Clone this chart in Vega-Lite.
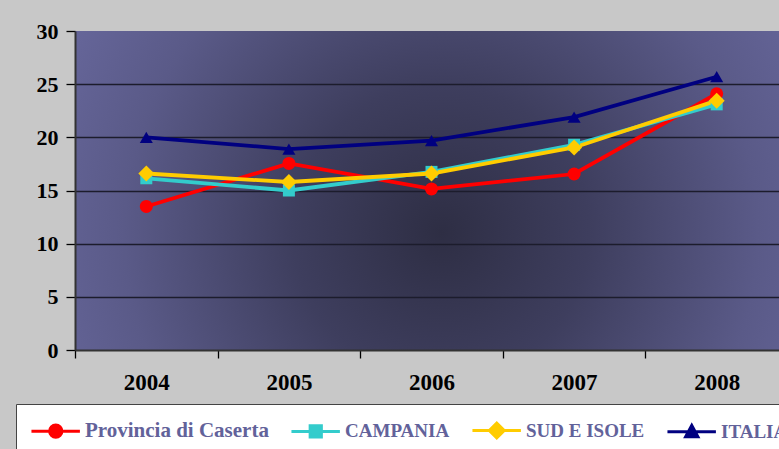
{
  "$schema": "https://vega.github.io/schema/vega-lite/v6.json",
  "autosize": "none",
  "width": 704,
  "height": 319,
  "padding": {"left": 75, "top": 31, "right": 0, "bottom": 99},
  "background": "#c8c8c8",
  "data": {
    "values": [
      {"year": "2004", "serie": "Provincia di Caserta", "value": 13.5},
      {"year": "2005", "serie": "Provincia di Caserta", "value": 17.55},
      {"year": "2006", "serie": "Provincia di Caserta", "value": 15.15},
      {"year": "2007", "serie": "Provincia di Caserta", "value": 16.55},
      {"year": "2008", "serie": "Provincia di Caserta", "value": 24.1},
      {"year": "2004", "serie": "CAMPANIA", "value": 16.15},
      {"year": "2005", "serie": "CAMPANIA", "value": 15.0},
      {"year": "2006", "serie": "CAMPANIA", "value": 16.75},
      {"year": "2007", "serie": "CAMPANIA", "value": 19.3},
      {"year": "2008", "serie": "CAMPANIA", "value": 23.1},
      {"year": "2004", "serie": "SUD E ISOLE", "value": 16.6},
      {"year": "2005", "serie": "SUD E ISOLE", "value": 15.8},
      {"year": "2006", "serie": "SUD E ISOLE", "value": 16.6},
      {"year": "2007", "serie": "SUD E ISOLE", "value": 19.05},
      {"year": "2008", "serie": "SUD E ISOLE", "value": 23.45},
      {"year": "2004", "serie": "ITALIA", "value": 20.0},
      {"year": "2005", "serie": "ITALIA", "value": 18.9},
      {"year": "2006", "serie": "ITALIA", "value": 19.7},
      {"year": "2007", "serie": "ITALIA", "value": 21.9},
      {"year": "2008", "serie": "ITALIA", "value": 25.7}
    ]
  },
  "encoding": {
    "x": {
      "field": "year",
      "type": "ordinal",
      "scale": {"type": "band", "range": [0, 713], "paddingInner": 0, "paddingOuter": 0},
      "axis": {
        "title": null,
        "labelAngle": 0,
        "labelFont": "Liberation Serif",
        "labelFontWeight": "bold",
        "labelFontSize": 23,
        "labelColor": "#000000",
        "labelPadding": 13,
        "tickBand": "extent",
        "tickSize": 8,
        "tickColor": "#000000",
        "tickWidth": 1.3,
        "domainColor": "#333333",
        "domainWidth": 2,
        "grid": false
      }
    },
    "y": {
      "field": "value",
      "type": "quantitative",
      "scale": {"domain": [0, 30], "nice": false},
      "axis": {
        "title": null,
        "values": [0, 5, 10, 15, 20, 25, 30],
        "labelFont": "Liberation Serif",
        "labelFontWeight": "bold",
        "labelFontSize": 22,
        "labelColor": "#000000",
        "labelPadding": 8,
        "tickSize": 9,
        "tickColor": "#000000",
        "tickWidth": 1.3,
        "domainColor": "#333333",
        "domainWidth": 2,
        "grid": true,
        "gridColor": "#1c1c2c",
        "gridWidth": 1.4,
        "gridOpacity": {"condition": {"test": "datum.value == 0 || datum.value == 30", "value": 0}, "value": 1}
      }
    },
    "color": {
      "field": "serie",
      "type": "nominal",
      "scale": {
        "domain": ["Provincia di Caserta", "CAMPANIA", "SUD E ISOLE", "ITALIA"],
        "range": ["#ff0000", "#33cccc", "#ffcc00", "#000080"]
      },
      "legend": {
        "title": null,
        "orient": "none",
        "legendX": -59,
        "legendY": 373,
        "direction": "horizontal",
        "fillColor": "#ffffff",
        "strokeColor": "#444444",
        "padding": 8,
        "symbolSize": 1156,
        "symbolStrokeWidth": 3,
        "labelFont": "Liberation Serif",
        "labelFontWeight": "bold",
        "labelFontSize": 21,
        "labelColor": "#62629a",
        "labelOffset": 24,
        "labelLimit": 400,
        "columnPadding": 15,
        "encode": {
          "labels": {
            "update": {
              "fontSize": {"signal": "datum.value === 'Provincia di Caserta' ? 21 : 19"}
            }
          },
          "symbols": {
            "update": {
              "shape": {"signal": "datum.value === 'Provincia di Caserta' ? 'M-0.65,0 L2.2,0 M1.14,0 A0.36,0.36 0 1,0 0.42,0 A0.36,0.36 0 1,0 1.14,0 Z' : datum.value === 'CAMPANIA' ? 'M-0.65,0 L2.2,0 M0.45,-0.33 L1.11,-0.33 L1.11,0.33 L0.45,0.33 Z' : datum.value === 'SUD E ISOLE' ? 'M-0.65,0 L2.2,0 M0.34,0 L0.78,-0.44 L1.22,0 L0.78,0.44 Z' : 'M-0.65,0 L2.2,0 M0.42,0.28 L0.78,-0.38 L1.14,0.28 Z'"},
              "fill": {"signal": "scale('color', datum.value)"},
              "stroke": {"signal": "scale('color', datum.value)"},
              "strokeWidth": {"value": 3},
              "opacity": {"value": 1},
              "fillOpacity": {"value": 1}
            }
          }
        }
      }
    }
  },
  "layer": [
    {"mark": {"type": "line", "strokeWidth": 3.8}},
    {
      "transform": [{"filter": {"field": "serie", "equal": "Provincia di Caserta"}}],
      "mark": {"type": "point", "shape": "circle", "size": 169, "filled": true, "opacity": 1}
    },
    {
      "transform": [{"filter": {"field": "serie", "equal": "CAMPANIA"}}],
      "mark": {"type": "point", "shape": "square", "size": 144, "filled": true, "opacity": 1}
    },
    {
      "transform": [{"filter": {"field": "serie", "equal": "SUD E ISOLE"}}],
      "mark": {"type": "point", "shape": "diamond", "size": 256, "filled": true, "opacity": 1}
    },
    {
      "transform": [{"filter": {"field": "serie", "equal": "ITALIA"}}],
      "mark": {"type": "point", "shape": "triangle-up", "size": 170, "filled": true, "opacity": 1}
    }
  ],
  "config": {
    "view": {
      "stroke": null,
      "fill": {
        "gradient": "radial",
        "x1": 0.52, "y1": 0.56, "r1": 0,
        "x2": 0.52, "y2": 0.56, "r2": 0.6,
        "stops": [
          {"offset": 0, "color": "#2e2e44"},
          {"offset": 0.35, "color": "#3e3e5e"},
          {"offset": 0.75, "color": "#5a5a88"},
          {"offset": 1, "color": "#66669a"}
        ]
      }
    }
  }
}
